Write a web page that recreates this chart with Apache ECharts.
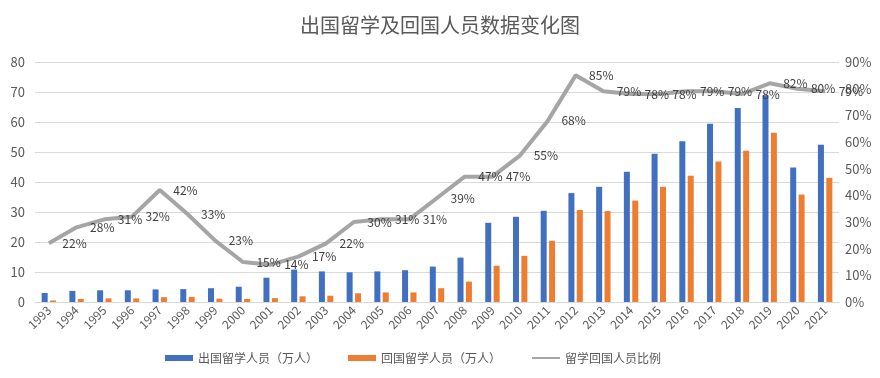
<!DOCTYPE html>
<html><head><meta charset="utf-8">
<script src="https://cdn.jsdelivr.net/npm/echarts@6/dist/echarts.min.js"></script>
<style>html,body{margin:0;padding:0;background:#fff}#c{width:880px;height:378px}</style>
</head><body><div id="c"></div>
<script>
const years = ['1993','1994','1995','1996','1997','1998','1999','2000','2001','2002','2003','2004','2005','2006','2007','2008','2009','2010','2011','2012','2013','2014','2015','2016','2017','2018','2019','2020','2021'];
const outbound = [3.0,3.7,3.9,3.9,4.2,4.3,4.6,5.1,8.1,10.8,10.2,9.9,10.2,10.6,11.8,14.8,26.4,28.4,30.4,36.3,38.4,43.4,49.4,53.6,59.4,64.7,68.9,44.8,52.4];
const returned = [0.5,1.0,1.2,1.2,1.6,1.7,1.1,1.0,1.3,1.9,2.1,2.9,3.2,3.2,4.6,6.8,12.1,15.4,20.4,30.7,30.3,33.8,38.4,42.1,46.8,50.4,56.4,35.8,41.4];
const ratio = [22,28,31,32,42,33,23,15,14,17,22,30,31,31,39,47,47,55,68,85,79,78,78,79,79,78,82,80,79];
const seriesNames = ['出国留学人员（万人）','回国留学人员（万人）','留学回国人员比例'];
const titleText = '出国留学及回国人员数据变化图';

const FONT = "'Noto Sans CJK SC', sans-serif";
const chart = echarts.init(document.getElementById('c'), null, {renderer:'canvas'});
chart.setOption({
  backgroundColor:'#fff',
  animation:false,
  textStyle:{fontFamily:FONT},
  title:{text:titleText,left:'center',top:10,textStyle:{fontFamily:FONT,fontSize:20,fontWeight:'normal',color:'#595959'}},
  legend:{
    left:160, top:347, itemGap:30, itemWidth:28, itemHeight:6,
    textStyle:{fontFamily:FONT,fontSize:12,color:'#595959'},
    data:[{name:seriesNames[0],icon:'rect'},{name:seriesNames[1],icon:'rect'},
      {name:seriesNames[2],itemStyle:{color:'rgba(0,0,0,0)',borderWidth:0}}]
  },
  grid:{left:35,right:41,top:62,bottom:76},
  xAxis:{type:'category',data:years,
    axisLine:{lineStyle:{color:'#d9d9d9'}},axisTick:{show:false},
    axisLabel:{rotate:45,fontSize:12,color:'#595959',interval:0,margin:6}},
  yAxis:[
    {type:'value',min:0,max:80,interval:10,
      axisLabel:{fontSize:13,color:'#595959',margin:10},
      splitLine:{lineStyle:{color:'#d9d9d9'}},axisLine:{show:false},axisTick:{show:false}},
    {type:'value',min:0,max:90,interval:10,
      axisLabel:{fontSize:13,color:'#595959',formatter:'{value}%',margin:6},
      splitLine:{show:false},axisLine:{show:false},axisTick:{show:false}}
  ],
  series:[
    {name:seriesNames[0],type:'bar',data:outbound,barWidth:6,barGap:'40%',itemStyle:{color:'#4170C0'}},
    {name:seriesNames[1],type:'bar',data:returned,barWidth:6,itemStyle:{color:'#ED7D31'}},
    {name:seriesNames[2],type:'line',yAxisIndex:1,data:ratio,symbol:'circle',symbolSize:1,showSymbol:true,
      lineStyle:{color:'#A5A5A5',width:4},itemStyle:{color:'rgba(165,165,165,0)'},
      labelLayout:{hideOverlap:false},
      label:{show:true,position:'right',distance:13,formatter:'{c}%',fontSize:12,color:'#404040'}}
  ]
});
</script></body></html>
